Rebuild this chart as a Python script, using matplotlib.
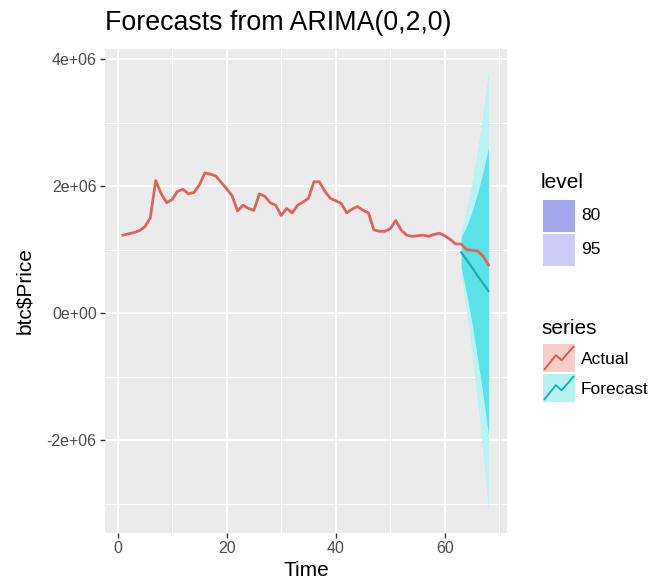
import matplotlib
matplotlib.use("Agg")
import matplotlib.pyplot as plt
from matplotlib.patches import Rectangle
import numpy as np

plt.rcParams['font.family'] = ['Liberation Sans', 'DejaVu Sans']

# observed series (btc$Price), t = 1..68
time_actual = list(range(1, 69))
price_actual = [
    1.23, 1.25, 1.27, 1.30, 1.36, 1.50, 2.09, 1.88, 1.74, 1.79,
    1.92, 1.95, 1.88, 1.90, 2.02, 2.21, 2.19, 2.16, 2.06, 1.96,
    1.85, 1.61, 1.70, 1.65, 1.62, 1.88, 1.84, 1.74, 1.70, 1.54,
    1.65, 1.58, 1.70, 1.75, 1.81, 2.07, 2.07, 1.92, 1.81, 1.77,
    1.73, 1.58, 1.64, 1.68, 1.62, 1.58, 1.31, 1.29, 1.29, 1.33,
    1.46, 1.31, 1.23, 1.21, 1.22, 1.23, 1.21, 1.24, 1.26, 1.22,
    1.16, 1.09, 1.09, 1.00, 0.99, 0.98, 0.90, 0.76,
]

# forecast from ARIMA(0,2,0), t = 63..68 (values in millions)
time_fc = [63, 64, 65, 66, 67, 68]
price_fc = [0.96, 0.84, 0.72, 0.59, 0.47, 0.35]
lo80 = [0.72, 0.31, -0.16, -0.71, -1.28, -1.91]
hi80 = [1.20, 1.37, 1.60, 1.89, 2.22, 2.61]
lo95 = [0.60, 0.03, -0.63, -1.39, -2.21, -3.10]
hi95 = [1.32, 1.65, 2.07, 2.57, 3.15, 3.80]

x_ticks = [0, 20, 40, 60]
y_ticks = [-2e6, 0, 2e6, 4e6]
y_tick_labels = ['-2e+06', '0e+00', '2e+06', '4e+06']

level_labels = ['80', '95']
series_labels = ['Actual', 'Forecast']

M = 1e6
W, H = 652, 588
fig = plt.figure(figsize=(W / 100, H / 100), dpi=100)
fig.patch.set_facecolor('white')

# panel in pixel box: left 105, right 507, top 49, bottom 533
ax = fig.add_axes([105 / W, (H - 533) / H, 402 / W, 484 / H])
ax.set_facecolor('#EBEBEB')
for s in ax.spines.values():
    s.set_visible(False)

# grid, ggplot style
ax.set_xticks(x_ticks)
ax.set_xticks([10, 30, 50, 70], minor=True)
ax.set_yticks(y_ticks)
ax.set_yticklabels(y_tick_labels)
ax.set_yticks([-3e6, -1e6, 1e6, 3e6], minor=True)
ax.grid(which='major', color='white', linewidth=1.4)
ax.grid(which='minor', color='white', linewidth=0.7)
ax.set_axisbelow(True)
ax.tick_params(which='major', length=3.5, width=1.0, color='#333333',
               labelcolor='#4D4D4D', labelsize=11.5, pad=2.5)
ax.tick_params(which='minor', length=0)

t_fc = np.array(time_fc)
ax.fill_between(t_fc, np.array(lo95) * M, np.array(hi95) * M,
                color='#B9F3F5', linewidth=0, zorder=2)
ax.fill_between(t_fc, np.array(lo80) * M, np.array(hi80) * M,
                color='#5AE2E7', linewidth=0, zorder=3)
ax.plot(time_actual, np.array(price_actual) * M, color='#E0645C',
        linewidth=2.0, zorder=4, solid_joinstyle='round')
ax.plot(time_fc, np.array(price_fc) * M, color='#1AA9AE',
        linewidth=1.5, zorder=5)

ax.set_xlim(-2.3, 71.4)
ax.set_ylim(-3.46e6, 4.16e6)

ax.set_xlabel('Time', fontsize=15, labelpad=3)
ax.set_ylabel(r'btc\$Price', fontsize=15, labelpad=9)

fig.text(105 / W, 1 - 23 / H, 'Forecasts from ARIMA(0,2,0)',
         fontsize=19.3, ha='left', va='center', color='black')

# legends drawn in pixel coordinates
lax = fig.add_axes([0, 0, 1, 1])
lax.set_xlim(0, W)
lax.set_ylim(H, 0)
lax.axis('off')

lax.text(541, 183, 'level', fontsize=15, va='center', ha='left')
level_colors = ['#A3A7EE', '#CBCDF8']
for i, (lab, col) in enumerate(zip(level_labels, level_colors)):
    y0 = 200 + i * 34
    lax.add_patch(Rectangle((543, y0), 32, 32, facecolor=col, edgecolor='none'))
    lax.text(581, y0 + 16, lab, fontsize=12.5, va='center', ha='left')

lax.text(541, 328, 'series', fontsize=15, va='center', ha='left')
series_bg = ['#F7CDC9', '#B7F2F3']
series_line = ['#E0584E', '#17B2B7']
zig_x = np.array([0.05, 0.4, 0.58, 0.95])
zig_y = np.array([0.1, 0.6, 0.42, 0.9])
for i, (lab, bg, lc) in enumerate(zip(series_labels, series_bg, series_line)):
    y0 = 344 + i * 30
    lax.add_patch(Rectangle((543, y0), 32, 28, facecolor=bg, edgecolor='none'))
    lax.plot(543 + zig_x * 32, y0 + 28 - zig_y * 28, color=lc, linewidth=1.4)
    lax.text(581, y0 + 15, lab, fontsize=12.5, va='center', ha='left')

fig.savefig('out.png', dpi=100)
